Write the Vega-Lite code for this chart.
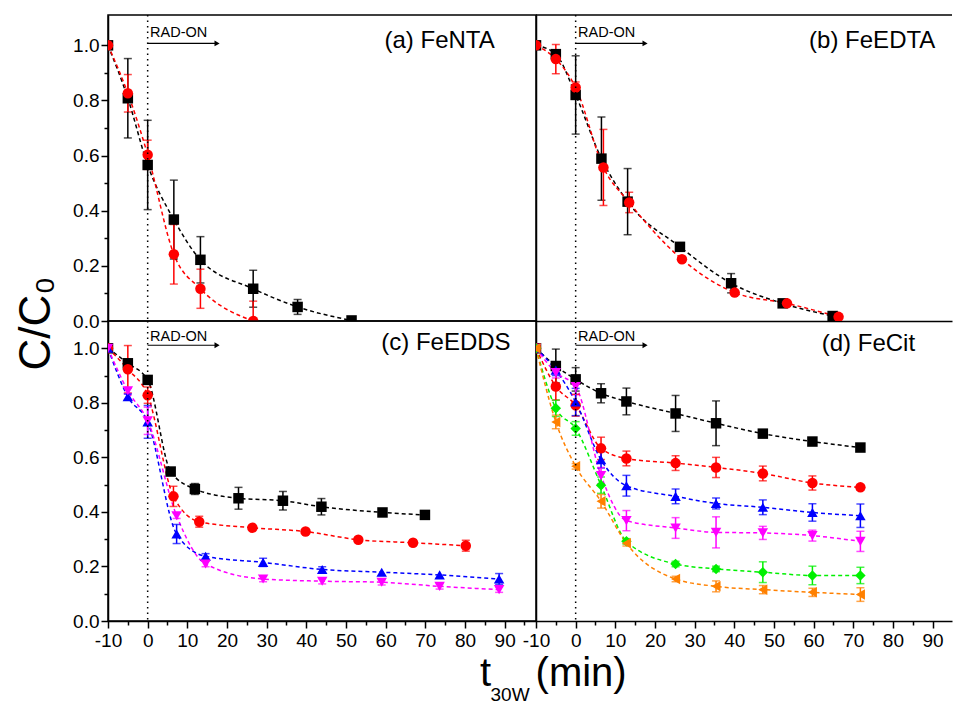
{
"$schema": "https://vega.github.io/schema/vega-lite/v6.json",
"background": "white",
"padding": {"left": 13, "top": 13, "right": 0, "bottom": 0},
"title": {"text": "t\u00a0\u00a0\u00a0\u00a0(min)", "subtitle": "\u2060\u00a0\u00a030W", "orient": "bottom", "anchor": "middle", "align": "left", "font": "Liberation Sans", "fontSize": 40, "fontWeight": "normal", "color": "#000", "subtitleFont": "Liberation Sans", "subtitleFontSize": 19, "subtitleColor": "#000", "subtitlePadding": -8, "offset": 3, "dx": -3},
"datasets": {"d": [
{"p":"a","s":"1","t":-10,"c":1.0,"e":0},{"p":"a","s":"1","t":-5,"c":0.808,"e":0.144},{"p":"a","s":"1","t":0,"c":0.566,"e":0.162},{"p":"a","s":"1","t":6.6,"c":0.368,"e":0.143},{"p":"a","s":"1","t":13.3,"c":0.222,"e":0.084},{"p":"a","s":"1","t":26.6,"c":0.117,"e":0.067},{"p":"a","s":"1","t":37.8,"c":0.051,"e":0.027},{"p":"a","s":"1","t":51.4,"c":0.002,"e":0},
{"p":"a","s":"2","t":-10,"c":1.0,"e":0},{"p":"a","s":"2","t":-5,"c":0.826,"e":0.068},{"p":"a","s":"2","t":0,"c":0.603,"e":0.053},{"p":"a","s":"2","t":6.6,"c":0.242,"e":0.108},{"p":"a","s":"2","t":13.3,"c":0.117,"e":0.071},{"p":"a","s":"2","t":26.6,"c":0.0,"e":0.072},
{"p":"b","s":"1","t":-10,"c":1.0,"e":0},{"p":"b","s":"1","t":-5,"c":0.968,"e":0.012},{"p":"b","s":"1","t":0,"c":0.82,"e":0.142},{"p":"b","s":"1","t":6.5,"c":0.589,"e":0.151},{"p":"b","s":"1","t":13.1,"c":0.433,"e":0.12},{"p":"b","s":"1","t":26.3,"c":0.269,"e":0.015},{"p":"b","s":"1","t":39.2,"c":0.137,"e":0.035},{"p":"b","s":"1","t":52.2,"c":0.064,"e":0.008},{"p":"b","s":"1","t":64.8,"c":0.018,"e":0},
{"p":"b","s":"2","t":-10,"c":1.0,"e":0},{"p":"b","s":"2","t":-5,"c":0.95,"e":0.053},{"p":"b","s":"2","t":0,"c":0.847,"e":0.02},{"p":"b","s":"2","t":7,"c":0.557,"e":0.138},{"p":"b","s":"2","t":13.5,"c":0.43,"e":0.037},{"p":"b","s":"2","t":26.8,"c":0.224,"e":0},{"p":"b","s":"2","t":40.1,"c":0.103,"e":0},{"p":"b","s":"2","t":53.3,"c":0.064,"e":0},{"p":"b","s":"2","t":66.3,"c":0.015,"e":0},
{"p":"c","s":"1","t":-10,"c":1.0,"e":0},{"p":"c","s":"1","t":-5,"c":0.945,"e":0.01},{"p":"c","s":"1","t":0,"c":0.884,"e":0.01},{"p":"c","s":"1","t":5.8,"c":0.548,"e":0.01},{"p":"c","s":"1","t":11.9,"c":0.484,"e":0.02},{"p":"c","s":"1","t":22.9,"c":0.45,"e":0.04},{"p":"c","s":"1","t":34.1,"c":0.441,"e":0.034},{"p":"c","s":"1","t":43.8,"c":0.419,"e":0.03},{"p":"c","s":"1","t":59.2,"c":0.398,"e":0.012},{"p":"c","s":"1","t":69.9,"c":0.389,"e":0},
{"p":"c","s":"2","t":-10,"c":1.0,"e":0},{"p":"c","s":"2","t":-5,"c":0.923,"e":0.087},{"p":"c","s":"2","t":0,"c":0.828,"e":0.03},{"p":"c","s":"2","t":6.5,"c":0.457,"e":0.037},{"p":"c","s":"2","t":13,"c":0.364,"e":0.02},{"p":"c","s":"2","t":26.4,"c":0.342,"e":0},{"p":"c","s":"2","t":39.8,"c":0.328,"e":0},{"p":"c","s":"2","t":53.1,"c":0.298,"e":0},{"p":"c","s":"2","t":66.9,"c":0.287,"e":0.01},{"p":"c","s":"2","t":80.2,"c":0.276,"e":0.02},
{"p":"c","s":"3","t":-10,"c":1.0,"e":0},{"p":"c","s":"3","t":-5,"c":0.822,"e":0.01},{"p":"c","s":"3","t":0,"c":0.73,"e":0.06},{"p":"c","s":"3","t":7.3,"c":0.319,"e":0.035},{"p":"c","s":"3","t":14.6,"c":0.237,"e":0.01},{"p":"c","s":"3","t":29.1,"c":0.215,"e":0.015},{"p":"c","s":"3","t":44,"c":0.189,"e":0.01},{"p":"c","s":"3","t":59,"c":0.179,"e":0},{"p":"c","s":"3","t":73.6,"c":0.169,"e":0},{"p":"c","s":"3","t":88.6,"c":0.154,"e":0.02},
{"p":"c","s":"4","t":-10,"c":1.0,"e":0},{"p":"c","s":"4","t":-5,"c":0.844,"e":0.01},{"p":"c","s":"4","t":0,"c":0.734,"e":0.05},{"p":"c","s":"4","t":7.3,"c":0.386,"e":0.01},{"p":"c","s":"4","t":14.6,"c":0.209,"e":0.01},{"p":"c","s":"4","t":29.1,"c":0.154,"e":0.01},{"p":"c","s":"4","t":44,"c":0.146,"e":0.01},{"p":"c","s":"4","t":59,"c":0.142,"e":0.01},{"p":"c","s":"4","t":73.6,"c":0.127,"e":0.01},{"p":"c","s":"4","t":88.6,"c":0.115,"e":0.01},
{"p":"d","s":"1","t":-10,"c":1.0,"e":0},{"p":"d","s":"1","t":-5,"c":0.935,"e":0.062},{"p":"d","s":"1","t":0,"c":0.886,"e":0.043},{"p":"d","s":"1","t":6.4,"c":0.835,"e":0.035},{"p":"d","s":"1","t":12.8,"c":0.805,"e":0.049},{"p":"d","s":"1","t":25.2,"c":0.761,"e":0.066},{"p":"d","s":"1","t":35.4,"c":0.725,"e":0.082},{"p":"d","s":"1","t":47.2,"c":0.687,"e":0.01},{"p":"d","s":"1","t":59.7,"c":0.658,"e":0.01},{"p":"d","s":"1","t":71.8,"c":0.636,"e":0.01},
{"p":"d","s":"2","t":-10,"c":1.0,"e":0},{"p":"d","s":"2","t":-5,"c":0.86,"e":0.05},{"p":"d","s":"2","t":0,"c":0.791,"e":0.04},{"p":"d","s":"2","t":6.4,"c":0.633,"e":0.041},{"p":"d","s":"2","t":12.8,"c":0.596,"e":0.027},{"p":"d","s":"2","t":25.2,"c":0.579,"e":0.027},{"p":"d","s":"2","t":35.4,"c":0.563,"e":0.037},{"p":"d","s":"2","t":47.2,"c":0.541,"e":0.027},{"p":"d","s":"2","t":59.7,"c":0.506,"e":0.026},{"p":"d","s":"2","t":71.8,"c":0.49,"e":0.01},
{"p":"d","s":"3","t":-10,"c":1.0,"e":0},{"p":"d","s":"3","t":-5,"c":0.92,"e":0.02},{"p":"d","s":"3","t":0,"c":0.803,"e":0.05},{"p":"d","s":"3","t":6.4,"c":0.591,"e":0.03},{"p":"d","s":"3","t":12.8,"c":0.496,"e":0.038},{"p":"d","s":"3","t":25.2,"c":0.457,"e":0.027},{"p":"d","s":"3","t":35.4,"c":0.431,"e":0.02},{"p":"d","s":"3","t":47.2,"c":0.417,"e":0.027},{"p":"d","s":"3","t":59.7,"c":0.398,"e":0.032},{"p":"d","s":"3","t":71.8,"c":0.386,"e":0.043},
{"p":"d","s":"4","t":-10,"c":1.0,"e":0},{"p":"d","s":"4","t":-5,"c":0.911,"e":0.02},{"p":"d","s":"4","t":0,"c":0.86,"e":0.03},{"p":"d","s":"4","t":6.4,"c":0.533,"e":0.03},{"p":"d","s":"4","t":12.8,"c":0.368,"e":0.037},{"p":"d","s":"4","t":25.2,"c":0.341,"e":0.038},{"p":"d","s":"4","t":35.4,"c":0.325,"e":0.057},{"p":"d","s":"4","t":47.2,"c":0.323,"e":0.024},{"p":"d","s":"4","t":59.7,"c":0.313,"e":0.02},{"p":"d","s":"4","t":71.8,"c":0.292,"e":0.037},
{"p":"d","s":"5","t":-10,"c":1.0,"e":0},{"p":"d","s":"5","t":-5,"c":0.78,"e":0.03},{"p":"d","s":"5","t":0,"c":0.706,"e":0.025},{"p":"d","s":"5","t":6.4,"c":0.498,"e":0.03},{"p":"d","s":"5","t":12.8,"c":0.292,"e":0.01},{"p":"d","s":"5","t":25.2,"c":0.209,"e":0.01},{"p":"d","s":"5","t":35.4,"c":0.191,"e":0.01},{"p":"d","s":"5","t":47.2,"c":0.179,"e":0.038},{"p":"d","s":"5","t":59.7,"c":0.167,"e":0.034},{"p":"d","s":"5","t":71.8,"c":0.167,"e":0.03},
{"p":"d","s":"6","t":-10,"c":1.0,"e":0},{"p":"d","s":"6","t":-5,"c":0.73,"e":0.025},{"p":"d","s":"6","t":0,"c":0.567,"e":0.01},{"p":"d","s":"6","t":6.4,"c":0.439,"e":0.025},{"p":"d","s":"6","t":12.8,"c":0.285,"e":0.01},{"p":"d","s":"6","t":25.2,"c":0.154,"e":0.01},{"p":"d","s":"6","t":35.4,"c":0.127,"e":0.02},{"p":"d","s":"6","t":47.2,"c":0.115,"e":0.015},{"p":"d","s":"6","t":59.7,"c":0.105,"e":0.015},{"p":"d","s":"6","t":71.8,"c":0.097,"e":0.025}
]},
"columns": 2,
"spacing": 0,
"bounds": "flush",
"concat": [
{"width": 428, "height": 306, "layer": [
{"data":{"name":"d"},"transform":[{"filter":"datum.p=='a'"}],"mark":{"type":"line","interpolate":"monotone","strokeDash":[4,3],"strokeWidth":1.5,"clip":true},"encoding":{
"x":{"field":"t","type":"quantitative","scale":{"domain":[-10,97.9],"nice":false,"zero":false},"axis":null},
"y":{"field":"c","type":"quantitative","scale":{"domain":[0,1.11],"nice":false},"axis":{"title":"C/C₀","titleFont":"Liberation Sans","titleFontSize":44,"titleAngle":270,"titleX":-72,"titleY":308,"titleAlign":"center","titleBaseline":"middle","values":[0,0.1,0.2,0.3,0.4,0.5,0.6,0.7,0.8,0.9,1.0],"labelExpr":"round(datum.value*10) % 2 == 0 ? format(datum.value, '.1f') : ''","tickSize":{"condition":{"test":"round(datum.value*10) % 2 == 0","value":7},"value":4},"labelFontSize":19,"labelPadding":2}},
"color":{"field":"s","type":"nominal","scale":{"domain":["1","2","3","4","5","6"],"range":["#000000","#ff0000","#0000ff","#ff00ff","#00f000","#ff8000"]},"legend":null}}},
{"data":{"name":"d"},"transform":[{"filter":"datum.p=='a' && datum.e>0"}],"mark":{"type":"errorbar","ticks":true,"thickness":1.5,"size":8,"clip":true},"encoding":{
"x":{"field":"t","type":"quantitative","scale":{"domain":[-10,97.9],"nice":false,"zero":false},"axis":null},
"y":{"field":"c","type":"quantitative","scale":{"domain":[0,1.11],"nice":false},"axis":{"title":"C/C₀","titleFont":"Liberation Sans","titleFontSize":44,"titleAngle":270,"titleX":-72,"titleY":308,"titleAlign":"center","titleBaseline":"middle","values":[0,0.1,0.2,0.3,0.4,0.5,0.6,0.7,0.8,0.9,1.0],"labelExpr":"round(datum.value*10) % 2 == 0 ? format(datum.value, '.1f') : ''","tickSize":{"condition":{"test":"round(datum.value*10) % 2 == 0","value":7},"value":4},"labelFontSize":19,"labelPadding":2}},
"yError":{"field":"e"},
"color":{"field":"s","type":"nominal","scale":{"domain":["1","2","3","4","5","6"],"range":["#000000","#ff0000","#0000ff","#ff00ff","#00f000","#ff8000"]},"legend":null}}},
{"data":{"name":"d"},"transform":[{"filter":"datum.p=='a'"}],"mark":{"type":"point","filled":true,"size":110,"opacity":1,"clip":true},"encoding":{
"x":{"field":"t","type":"quantitative","scale":{"domain":[-10,97.9],"nice":false,"zero":false},"axis":null},
"y":{"field":"c","type":"quantitative","scale":{"domain":[0,1.11],"nice":false},"axis":{"title":"C/C₀","titleFont":"Liberation Sans","titleFontSize":44,"titleAngle":270,"titleX":-72,"titleY":308,"titleAlign":"center","titleBaseline":"middle","values":[0,0.1,0.2,0.3,0.4,0.5,0.6,0.7,0.8,0.9,1.0],"labelExpr":"round(datum.value*10) % 2 == 0 ? format(datum.value, '.1f') : ''","tickSize":{"condition":{"test":"round(datum.value*10) % 2 == 0","value":7},"value":4},"labelFontSize":19,"labelPadding":2}},
"color":{"field":"s","type":"nominal","scale":{"domain":["1","2","3","4","5","6"],"range":["#000000","#ff0000","#0000ff","#ff00ff","#00f000","#ff8000"]},"legend":null},
"shape":{"field":"s","type":"nominal","scale":{"domain":["1","2","3","4","5","6"],"range":["square","circle","triangle-up","triangle-down","diamond","triangle-left"]},"legend":null}}},
{"data":{"values":[{}]},"mark":{"type":"rule","strokeDash":[1.5,4],"strokeWidth":1.5,"color":"#000"},"encoding":{"x":{"datum":0,"type":"quantitative","scale":{"domain":[-10,97.9],"nice":false,"zero":false},"axis":null}}},
{"data":{"values":[{}]},"mark":{"type":"rule","strokeWidth":1.2,"color":"#000"},"encoding":{"x":{"datum":0,"type":"quantitative","scale":{"domain":[-10,97.9],"nice":false,"zero":false},"axis":null},"x2":{"datum":17},"y":{"datum":1.007,"type":"quantitative","scale":{"domain":[0,1.11],"nice":false},"axis":{"title":"C/C₀","titleFont":"Liberation Sans","titleFontSize":44,"titleAngle":270,"titleX":-72,"titleY":308,"titleAlign":"center","titleBaseline":"middle","values":[0,0.1,0.2,0.3,0.4,0.5,0.6,0.7,0.8,0.9,1.0],"labelExpr":"round(datum.value*10) % 2 == 0 ? format(datum.value, '.1f') : ''","tickSize":{"condition":{"test":"round(datum.value*10) % 2 == 0","value":7},"value":4},"labelFontSize":19,"labelPadding":2}}}},
{"data":{"values":[{}]},"mark":{"type":"point","shape":"triangle-right","filled":true,"size":35,"color":"#000","opacity":1},"encoding":{"x":{"datum":17.5,"type":"quantitative","scale":{"domain":[-10,97.9],"nice":false,"zero":false},"axis":null},"y":{"datum":1.007,"type":"quantitative","scale":{"domain":[0,1.11],"nice":false},"axis":{"title":"C/C₀","titleFont":"Liberation Sans","titleFontSize":44,"titleAngle":270,"titleX":-72,"titleY":308,"titleAlign":"center","titleBaseline":"middle","values":[0,0.1,0.2,0.3,0.4,0.5,0.6,0.7,0.8,0.9,1.0],"labelExpr":"round(datum.value*10) % 2 == 0 ? format(datum.value, '.1f') : ''","tickSize":{"condition":{"test":"round(datum.value*10) % 2 == 0","value":7},"value":4},"labelFontSize":19,"labelPadding":2}}}},
{"data":{"values":[{}]},"mark":{"type":"text","text":"RAD-ON","align":"left","baseline":"middle","fontSize":14.5,"font":"Liberation Sans","color":"#000"},"encoding":{"x":{"datum":0.6,"type":"quantitative","scale":{"domain":[-10,97.9],"nice":false,"zero":false},"axis":null},"y":{"datum":1.043,"type":"quantitative","scale":{"domain":[0,1.11],"nice":false},"axis":{"title":"C/C₀","titleFont":"Liberation Sans","titleFontSize":44,"titleAngle":270,"titleX":-72,"titleY":308,"titleAlign":"center","titleBaseline":"middle","values":[0,0.1,0.2,0.3,0.4,0.5,0.6,0.7,0.8,0.9,1.0],"labelExpr":"round(datum.value*10) % 2 == 0 ? format(datum.value, '.1f') : ''","tickSize":{"condition":{"test":"round(datum.value*10) % 2 == 0","value":7},"value":4},"labelFontSize":19,"labelPadding":2}}}},
{"data":{"values":[{}]},"mark":{"type":"text","text":"(a) FeNTA","align":"right","baseline":"middle","fontSize":24,"font":"Liberation Sans","color":"#000"},"encoding":{"x":{"datum":87.5,"type":"quantitative","scale":{"domain":[-10,97.9],"nice":false,"zero":false},"axis":null},"y":{"datum":1.016,"type":"quantitative","scale":{"domain":[0,1.11],"nice":false},"axis":{"title":"C/C₀","titleFont":"Liberation Sans","titleFontSize":44,"titleAngle":270,"titleX":-72,"titleY":308,"titleAlign":"center","titleBaseline":"middle","values":[0,0.1,0.2,0.3,0.4,0.5,0.6,0.7,0.8,0.9,1.0],"labelExpr":"round(datum.value*10) % 2 == 0 ? format(datum.value, '.1f') : ''","tickSize":{"condition":{"test":"round(datum.value*10) % 2 == 0","value":7},"value":4},"labelFontSize":19,"labelPadding":2}}}}
]},
{"width": 416, "height": 306, "view": {"stroke": null}, "layer": [
{"data":{"name":"d"},"transform":[{"filter":"datum.p=='b'"}],"mark":{"type":"line","interpolate":"monotone","strokeDash":[4,3],"strokeWidth":1.5,"clip":true},"encoding":{
"x":{"field":"t","type":"quantitative","scale":{"domain":[-10,94.9],"nice":false,"zero":false},"axis":{"title":null,"labels":false,"ticks":false,"domain":true}},
"y":{"field":"c","type":"quantitative","scale":{"domain":[0,1.11],"nice":false},"axis":{"title":null,"labels":false,"ticks":false,"domain":true}},
"color":{"field":"s","type":"nominal","scale":{"domain":["1","2","3","4","5","6"],"range":["#000000","#ff0000","#0000ff","#ff00ff","#00f000","#ff8000"]},"legend":null}}},
{"data":{"name":"d"},"transform":[{"filter":"datum.p=='b' && datum.e>0"}],"mark":{"type":"errorbar","ticks":true,"thickness":1.5,"size":8,"clip":true},"encoding":{
"x":{"field":"t","type":"quantitative","scale":{"domain":[-10,94.9],"nice":false,"zero":false},"axis":{"title":null,"labels":false,"ticks":false,"domain":true}},
"y":{"field":"c","type":"quantitative","scale":{"domain":[0,1.11],"nice":false},"axis":{"title":null,"labels":false,"ticks":false,"domain":true}},
"yError":{"field":"e"},
"color":{"field":"s","type":"nominal","scale":{"domain":["1","2","3","4","5","6"],"range":["#000000","#ff0000","#0000ff","#ff00ff","#00f000","#ff8000"]},"legend":null}}},
{"data":{"name":"d"},"transform":[{"filter":"datum.p=='b'"}],"mark":{"type":"point","filled":true,"size":110,"opacity":1,"clip":true},"encoding":{
"x":{"field":"t","type":"quantitative","scale":{"domain":[-10,94.9],"nice":false,"zero":false},"axis":{"title":null,"labels":false,"ticks":false,"domain":true}},
"y":{"field":"c","type":"quantitative","scale":{"domain":[0,1.11],"nice":false},"axis":{"title":null,"labels":false,"ticks":false,"domain":true}},
"color":{"field":"s","type":"nominal","scale":{"domain":["1","2","3","4","5","6"],"range":["#000000","#ff0000","#0000ff","#ff00ff","#00f000","#ff8000"]},"legend":null},
"shape":{"field":"s","type":"nominal","scale":{"domain":["1","2","3","4","5","6"],"range":["square","circle","triangle-up","triangle-down","diamond","triangle-left"]},"legend":null}}},
{"data":{"values":[{}]},"mark":{"type":"rule","strokeWidth":1.5,"color":"#000"},"encoding":{"y":{"datum":1.11,"type":"quantitative","scale":{"domain":[0,1.11],"nice":false},"axis":{"title":null,"labels":false,"ticks":false,"domain":true}}}},
{"data":{"values":[{}]},"mark":{"type":"rule","strokeDash":[1.5,4],"strokeWidth":1.5,"color":"#000"},"encoding":{"x":{"datum":0,"type":"quantitative","scale":{"domain":[-10,94.9],"nice":false,"zero":false},"axis":{"title":null,"labels":false,"ticks":false,"domain":true}}}},
{"data":{"values":[{}]},"mark":{"type":"rule","strokeWidth":1.2,"color":"#000"},"encoding":{"x":{"datum":0,"type":"quantitative","scale":{"domain":[-10,94.9],"nice":false,"zero":false},"axis":{"title":null,"labels":false,"ticks":false,"domain":true}},"x2":{"datum":17},"y":{"datum":1.007,"type":"quantitative","scale":{"domain":[0,1.11],"nice":false},"axis":{"title":null,"labels":false,"ticks":false,"domain":true}}}},
{"data":{"values":[{}]},"mark":{"type":"point","shape":"triangle-right","filled":true,"size":35,"color":"#000","opacity":1},"encoding":{"x":{"datum":17.5,"type":"quantitative","scale":{"domain":[-10,94.9],"nice":false,"zero":false},"axis":{"title":null,"labels":false,"ticks":false,"domain":true}},"y":{"datum":1.007,"type":"quantitative","scale":{"domain":[0,1.11],"nice":false},"axis":{"title":null,"labels":false,"ticks":false,"domain":true}}}},
{"data":{"values":[{}]},"mark":{"type":"text","text":"RAD-ON","align":"left","baseline":"middle","fontSize":14.5,"font":"Liberation Sans","color":"#000"},"encoding":{"x":{"datum":0.6,"type":"quantitative","scale":{"domain":[-10,94.9],"nice":false,"zero":false},"axis":{"title":null,"labels":false,"ticks":false,"domain":true}},"y":{"datum":1.043,"type":"quantitative","scale":{"domain":[0,1.11],"nice":false},"axis":{"title":null,"labels":false,"ticks":false,"domain":true}}}},
{"data":{"values":[{}]},"mark":{"type":"text","text":"(b) FeEDTA","align":"right","baseline":"middle","fontSize":24,"font":"Liberation Sans","color":"#000"},"encoding":{"x":{"datum":90.7,"type":"quantitative","scale":{"domain":[-10,94.9],"nice":false,"zero":false},"axis":{"title":null,"labels":false,"ticks":false,"domain":true}},"y":{"datum":1.016,"type":"quantitative","scale":{"domain":[0,1.11],"nice":false},"axis":{"title":null,"labels":false,"ticks":false,"domain":true}}}}
]},
{"width": 428, "height": 300, "layer": [
{"data":{"name":"d"},"transform":[{"filter":"datum.p=='c'"}],"mark":{"type":"line","interpolate":"monotone","strokeDash":[4,3],"strokeWidth":1.5,"clip":true},"encoding":{
"x":{"field":"t","type":"quantitative","scale":{"domain":[-10,97.9],"nice":false,"zero":false},"axis":{"title":null,"values":[-10,-5,0,5,10,15,20,25,30,35,40,45,50,55,60,65,70,75,80,85,90,95],"labelExpr":"datum.value % 10 == 0 ? '' + datum.value : ''","tickSize":{"condition":{"test":"datum.value % 10 == 0","value":7},"value":4},"labelFontSize":19,"labelPadding":3}},
"y":{"field":"c","type":"quantitative","scale":{"domain":[0,1.1],"nice":false},"axis":{"title":null,"values":[0,0.1,0.2,0.3,0.4,0.5,0.6,0.7,0.8,0.9,1.0],"labelExpr":"round(datum.value*10) % 2 == 0 ? format(datum.value, '.1f') : ''","tickSize":{"condition":{"test":"round(datum.value*10) % 2 == 0","value":7},"value":4},"labelFontSize":19,"labelPadding":2}},
"color":{"field":"s","type":"nominal","scale":{"domain":["1","2","3","4","5","6"],"range":["#000000","#ff0000","#0000ff","#ff00ff","#00f000","#ff8000"]},"legend":null}}},
{"data":{"name":"d"},"transform":[{"filter":"datum.p=='c' && datum.e>0"}],"mark":{"type":"errorbar","ticks":true,"thickness":1.5,"size":8,"clip":true},"encoding":{
"x":{"field":"t","type":"quantitative","scale":{"domain":[-10,97.9],"nice":false,"zero":false},"axis":{"title":null,"values":[-10,-5,0,5,10,15,20,25,30,35,40,45,50,55,60,65,70,75,80,85,90,95],"labelExpr":"datum.value % 10 == 0 ? '' + datum.value : ''","tickSize":{"condition":{"test":"datum.value % 10 == 0","value":7},"value":4},"labelFontSize":19,"labelPadding":3}},
"y":{"field":"c","type":"quantitative","scale":{"domain":[0,1.1],"nice":false},"axis":{"title":null,"values":[0,0.1,0.2,0.3,0.4,0.5,0.6,0.7,0.8,0.9,1.0],"labelExpr":"round(datum.value*10) % 2 == 0 ? format(datum.value, '.1f') : ''","tickSize":{"condition":{"test":"round(datum.value*10) % 2 == 0","value":7},"value":4},"labelFontSize":19,"labelPadding":2}},
"yError":{"field":"e"},
"color":{"field":"s","type":"nominal","scale":{"domain":["1","2","3","4","5","6"],"range":["#000000","#ff0000","#0000ff","#ff00ff","#00f000","#ff8000"]},"legend":null}}},
{"data":{"name":"d"},"transform":[{"filter":"datum.p=='c'"}],"mark":{"type":"point","filled":true,"size":110,"opacity":1,"clip":true},"encoding":{
"x":{"field":"t","type":"quantitative","scale":{"domain":[-10,97.9],"nice":false,"zero":false},"axis":{"title":null,"values":[-10,-5,0,5,10,15,20,25,30,35,40,45,50,55,60,65,70,75,80,85,90,95],"labelExpr":"datum.value % 10 == 0 ? '' + datum.value : ''","tickSize":{"condition":{"test":"datum.value % 10 == 0","value":7},"value":4},"labelFontSize":19,"labelPadding":3}},
"y":{"field":"c","type":"quantitative","scale":{"domain":[0,1.1],"nice":false},"axis":{"title":null,"values":[0,0.1,0.2,0.3,0.4,0.5,0.6,0.7,0.8,0.9,1.0],"labelExpr":"round(datum.value*10) % 2 == 0 ? format(datum.value, '.1f') : ''","tickSize":{"condition":{"test":"round(datum.value*10) % 2 == 0","value":7},"value":4},"labelFontSize":19,"labelPadding":2}},
"color":{"field":"s","type":"nominal","scale":{"domain":["1","2","3","4","5","6"],"range":["#000000","#ff0000","#0000ff","#ff00ff","#00f000","#ff8000"]},"legend":null},
"shape":{"field":"s","type":"nominal","scale":{"domain":["1","2","3","4","5","6"],"range":["square","circle","triangle-up","triangle-down","diamond","triangle-left"]},"legend":null}}},
{"data":{"values":[{}]},"mark":{"type":"rule","strokeDash":[1.5,4],"strokeWidth":1.5,"color":"#000"},"encoding":{"x":{"datum":0,"type":"quantitative","scale":{"domain":[-10,97.9],"nice":false,"zero":false},"axis":{"title":null,"values":[-10,-5,0,5,10,15,20,25,30,35,40,45,50,55,60,65,70,75,80,85,90,95],"labelExpr":"datum.value % 10 == 0 ? '' + datum.value : ''","tickSize":{"condition":{"test":"datum.value % 10 == 0","value":7},"value":4},"labelFontSize":19,"labelPadding":3}}}},
{"data":{"values":[{}]},"mark":{"type":"rule","strokeWidth":1.2,"color":"#000"},"encoding":{"x":{"datum":0,"type":"quantitative","scale":{"domain":[-10,97.9],"nice":false,"zero":false},"axis":{"title":null,"values":[-10,-5,0,5,10,15,20,25,30,35,40,45,50,55,60,65,70,75,80,85,90,95],"labelExpr":"datum.value % 10 == 0 ? '' + datum.value : ''","tickSize":{"condition":{"test":"datum.value % 10 == 0","value":7},"value":4},"labelFontSize":19,"labelPadding":3}},"x2":{"datum":17},"y":{"datum":1.011,"type":"quantitative","scale":{"domain":[0,1.1],"nice":false},"axis":{"title":null,"values":[0,0.1,0.2,0.3,0.4,0.5,0.6,0.7,0.8,0.9,1.0],"labelExpr":"round(datum.value*10) % 2 == 0 ? format(datum.value, '.1f') : ''","tickSize":{"condition":{"test":"round(datum.value*10) % 2 == 0","value":7},"value":4},"labelFontSize":19,"labelPadding":2}}}},
{"data":{"values":[{}]},"mark":{"type":"point","shape":"triangle-right","filled":true,"size":35,"color":"#000","opacity":1},"encoding":{"x":{"datum":17.5,"type":"quantitative","scale":{"domain":[-10,97.9],"nice":false,"zero":false},"axis":{"title":null,"values":[-10,-5,0,5,10,15,20,25,30,35,40,45,50,55,60,65,70,75,80,85,90,95],"labelExpr":"datum.value % 10 == 0 ? '' + datum.value : ''","tickSize":{"condition":{"test":"datum.value % 10 == 0","value":7},"value":4},"labelFontSize":19,"labelPadding":3}},"y":{"datum":1.011,"type":"quantitative","scale":{"domain":[0,1.1],"nice":false},"axis":{"title":null,"values":[0,0.1,0.2,0.3,0.4,0.5,0.6,0.7,0.8,0.9,1.0],"labelExpr":"round(datum.value*10) % 2 == 0 ? format(datum.value, '.1f') : ''","tickSize":{"condition":{"test":"round(datum.value*10) % 2 == 0","value":7},"value":4},"labelFontSize":19,"labelPadding":2}}}},
{"data":{"values":[{}]},"mark":{"type":"text","text":"RAD-ON","align":"left","baseline":"middle","fontSize":14.5,"font":"Liberation Sans","color":"#000"},"encoding":{"x":{"datum":0.6,"type":"quantitative","scale":{"domain":[-10,97.9],"nice":false,"zero":false},"axis":{"title":null,"values":[-10,-5,0,5,10,15,20,25,30,35,40,45,50,55,60,65,70,75,80,85,90,95],"labelExpr":"datum.value % 10 == 0 ? '' + datum.value : ''","tickSize":{"condition":{"test":"datum.value % 10 == 0","value":7},"value":4},"labelFontSize":19,"labelPadding":3}},"y":{"datum":1.043,"type":"quantitative","scale":{"domain":[0,1.1],"nice":false},"axis":{"title":null,"values":[0,0.1,0.2,0.3,0.4,0.5,0.6,0.7,0.8,0.9,1.0],"labelExpr":"round(datum.value*10) % 2 == 0 ? format(datum.value, '.1f') : ''","tickSize":{"condition":{"test":"round(datum.value*10) % 2 == 0","value":7},"value":4},"labelFontSize":19,"labelPadding":2}}}},
{"data":{"values":[{}]},"mark":{"type":"text","text":"(c) FeEDDS","align":"right","baseline":"middle","fontSize":24,"font":"Liberation Sans","color":"#000"},"encoding":{"x":{"datum":91.5,"type":"quantitative","scale":{"domain":[-10,97.9],"nice":false,"zero":false},"axis":{"title":null,"values":[-10,-5,0,5,10,15,20,25,30,35,40,45,50,55,60,65,70,75,80,85,90,95],"labelExpr":"datum.value % 10 == 0 ? '' + datum.value : ''","tickSize":{"condition":{"test":"datum.value % 10 == 0","value":7},"value":4},"labelFontSize":19,"labelPadding":3}},"y":{"datum":1.019,"type":"quantitative","scale":{"domain":[0,1.1],"nice":false},"axis":{"title":null,"values":[0,0.1,0.2,0.3,0.4,0.5,0.6,0.7,0.8,0.9,1.0],"labelExpr":"round(datum.value*10) % 2 == 0 ? format(datum.value, '.1f') : ''","tickSize":{"condition":{"test":"round(datum.value*10) % 2 == 0","value":7},"value":4},"labelFontSize":19,"labelPadding":2}}}}
]},
{"width": 416, "height": 300, "view": {"stroke": null}, "layer": [
{"data":{"name":"d"},"transform":[{"filter":"datum.p=='d'"}],"mark":{"type":"line","interpolate":"monotone","strokeDash":[4,3],"strokeWidth":1.5,"clip":true},"encoding":{
"x":{"field":"t","type":"quantitative","scale":{"domain":[-10,94.9],"nice":false,"zero":false},"axis":{"title":null,"values":[-10,-5,0,5,10,15,20,25,30,35,40,45,50,55,60,65,70,75,80,85,90,95],"labelExpr":"datum.value % 10 == 0 ? '' + datum.value : ''","tickSize":{"condition":{"test":"datum.value % 10 == 0","value":7},"value":4},"labelFontSize":19,"labelPadding":3}},
"y":{"field":"c","type":"quantitative","scale":{"domain":[0,1.1],"nice":false},"axis":{"title":null,"labels":false,"ticks":false,"domain":true}},
"color":{"field":"s","type":"nominal","scale":{"domain":["1","2","3","4","5","6"],"range":["#000000","#ff0000","#0000ff","#ff00ff","#00f000","#ff8000"]},"legend":null}}},
{"data":{"name":"d"},"transform":[{"filter":"datum.p=='d' && datum.e>0"}],"mark":{"type":"errorbar","ticks":true,"thickness":1.5,"size":8,"clip":true},"encoding":{
"x":{"field":"t","type":"quantitative","scale":{"domain":[-10,94.9],"nice":false,"zero":false},"axis":{"title":null,"values":[-10,-5,0,5,10,15,20,25,30,35,40,45,50,55,60,65,70,75,80,85,90,95],"labelExpr":"datum.value % 10 == 0 ? '' + datum.value : ''","tickSize":{"condition":{"test":"datum.value % 10 == 0","value":7},"value":4},"labelFontSize":19,"labelPadding":3}},
"y":{"field":"c","type":"quantitative","scale":{"domain":[0,1.1],"nice":false},"axis":{"title":null,"labels":false,"ticks":false,"domain":true}},
"yError":{"field":"e"},
"color":{"field":"s","type":"nominal","scale":{"domain":["1","2","3","4","5","6"],"range":["#000000","#ff0000","#0000ff","#ff00ff","#00f000","#ff8000"]},"legend":null}}},
{"data":{"name":"d"},"transform":[{"filter":"datum.p=='d'"}],"mark":{"type":"point","filled":true,"size":110,"opacity":1,"clip":true},"encoding":{
"x":{"field":"t","type":"quantitative","scale":{"domain":[-10,94.9],"nice":false,"zero":false},"axis":{"title":null,"values":[-10,-5,0,5,10,15,20,25,30,35,40,45,50,55,60,65,70,75,80,85,90,95],"labelExpr":"datum.value % 10 == 0 ? '' + datum.value : ''","tickSize":{"condition":{"test":"datum.value % 10 == 0","value":7},"value":4},"labelFontSize":19,"labelPadding":3}},
"y":{"field":"c","type":"quantitative","scale":{"domain":[0,1.1],"nice":false},"axis":{"title":null,"labels":false,"ticks":false,"domain":true}},
"color":{"field":"s","type":"nominal","scale":{"domain":["1","2","3","4","5","6"],"range":["#000000","#ff0000","#0000ff","#ff00ff","#00f000","#ff8000"]},"legend":null},
"shape":{"field":"s","type":"nominal","scale":{"domain":["1","2","3","4","5","6"],"range":["square","circle","triangle-up","triangle-down","diamond","triangle-left"]},"legend":null}}},
{"data":{"values":[{}]},"mark":{"type":"rule","strokeDash":[1.5,4],"strokeWidth":1.5,"color":"#000"},"encoding":{"x":{"datum":0,"type":"quantitative","scale":{"domain":[-10,94.9],"nice":false,"zero":false},"axis":{"title":null,"values":[-10,-5,0,5,10,15,20,25,30,35,40,45,50,55,60,65,70,75,80,85,90,95],"labelExpr":"datum.value % 10 == 0 ? '' + datum.value : ''","tickSize":{"condition":{"test":"datum.value % 10 == 0","value":7},"value":4},"labelFontSize":19,"labelPadding":3}}}},
{"data":{"values":[{}]},"mark":{"type":"rule","strokeWidth":1.2,"color":"#000"},"encoding":{"x":{"datum":0,"type":"quantitative","scale":{"domain":[-10,94.9],"nice":false,"zero":false},"axis":{"title":null,"values":[-10,-5,0,5,10,15,20,25,30,35,40,45,50,55,60,65,70,75,80,85,90,95],"labelExpr":"datum.value % 10 == 0 ? '' + datum.value : ''","tickSize":{"condition":{"test":"datum.value % 10 == 0","value":7},"value":4},"labelFontSize":19,"labelPadding":3}},"x2":{"datum":17},"y":{"datum":1.011,"type":"quantitative","scale":{"domain":[0,1.1],"nice":false},"axis":{"title":null,"labels":false,"ticks":false,"domain":true}}}},
{"data":{"values":[{}]},"mark":{"type":"point","shape":"triangle-right","filled":true,"size":35,"color":"#000","opacity":1},"encoding":{"x":{"datum":17.5,"type":"quantitative","scale":{"domain":[-10,94.9],"nice":false,"zero":false},"axis":{"title":null,"values":[-10,-5,0,5,10,15,20,25,30,35,40,45,50,55,60,65,70,75,80,85,90,95],"labelExpr":"datum.value % 10 == 0 ? '' + datum.value : ''","tickSize":{"condition":{"test":"datum.value % 10 == 0","value":7},"value":4},"labelFontSize":19,"labelPadding":3}},"y":{"datum":1.011,"type":"quantitative","scale":{"domain":[0,1.1],"nice":false},"axis":{"title":null,"labels":false,"ticks":false,"domain":true}}}},
{"data":{"values":[{}]},"mark":{"type":"text","text":"RAD-ON","align":"left","baseline":"middle","fontSize":14.5,"font":"Liberation Sans","color":"#000"},"encoding":{"x":{"datum":0.6,"type":"quantitative","scale":{"domain":[-10,94.9],"nice":false,"zero":false},"axis":{"title":null,"values":[-10,-5,0,5,10,15,20,25,30,35,40,45,50,55,60,65,70,75,80,85,90,95],"labelExpr":"datum.value % 10 == 0 ? '' + datum.value : ''","tickSize":{"condition":{"test":"datum.value % 10 == 0","value":7},"value":4},"labelFontSize":19,"labelPadding":3}},"y":{"datum":1.043,"type":"quantitative","scale":{"domain":[0,1.1],"nice":false},"axis":{"title":null,"labels":false,"ticks":false,"domain":true}}}},
{"data":{"values":[{}]},"mark":{"type":"text","text":"(d) FeCit","align":"right","baseline":"middle","fontSize":24,"font":"Liberation Sans","color":"#000"},"encoding":{"x":{"datum":85.6,"type":"quantitative","scale":{"domain":[-10,94.9],"nice":false,"zero":false},"axis":{"title":null,"values":[-10,-5,0,5,10,15,20,25,30,35,40,45,50,55,60,65,70,75,80,85,90,95],"labelExpr":"datum.value % 10 == 0 ? '' + datum.value : ''","tickSize":{"condition":{"test":"datum.value % 10 == 0","value":7},"value":4},"labelFontSize":19,"labelPadding":3}},"y":{"datum":1.015,"type":"quantitative","scale":{"domain":[0,1.1],"nice":false},"axis":{"title":null,"labels":false,"ticks":false,"domain":true}}}}
]}
],
"config": {
"view": {"stroke": "#000", "strokeWidth": 1.5},
"axis": {"domainColor": "#000", "domainWidth": 1.5, "tickColor": "#000", "tickWidth": 1.5, "labelColor": "#000", "labelFont": "Liberation Sans", "grid": false, "labelFlush": false, "labelOverlap": false, "titleColor": "#000", "titleFontWeight": "normal"}
}
}
